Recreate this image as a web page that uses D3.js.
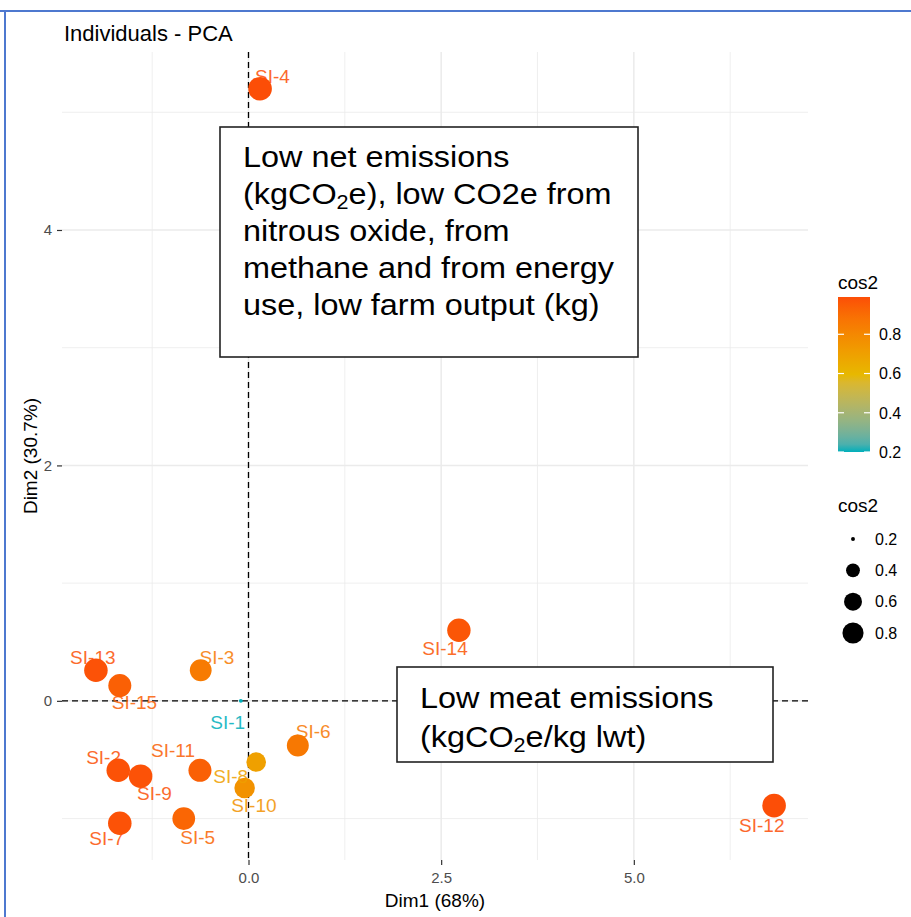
<!DOCTYPE html>
<html>
<head>
<meta charset="utf-8">
<script src="https://cdn.jsdelivr.net/npm/d3@7"></script>
<style>
  html, body { margin: 0; padding: 0; background: #ffffff; }
  svg { display: block; font-family: "Liberation Sans", Arial, Helvetica, sans-serif; }
</style>
</head>
<body>
<svg id="chart" width="911" height="917"></svg>
<script>
// ---------------- DATA ----------------
const individuals = ["SI-1","SI-2","SI-3","SI-4","SI-5","SI-6","SI-7","SI-8","SI-9","SI-10","SI-11","SI-12","SI-13","SI-14","SI-15"];
const dim1 = [-0.10, -1.69, -0.62, 0.15, -0.84, 0.64, -1.67, 0.10, -1.40, -0.05, -0.63, 6.82, -1.98, 2.73, -1.67];
const dim2 = [0.00, -0.59, 0.26, 5.20, -1.00, -0.38, -1.04, -0.52, -0.64, -0.74, -0.59, -0.89, 0.26, 0.60, 0.13];
const cos2 = [0.20, 0.98, 0.85, 0.99, 0.92, 0.86, 0.98, 0.70, 0.98, 0.76, 0.94, 0.99, 0.98, 0.97, 0.94];
// repelled label positions (data units)
const labelDim1 = [-0.27, -1.88, -0.41, 0.31, -0.66, 0.84, -1.84, -0.23, -1.22, 0.07, -0.98, 6.66, -2.02, 2.55, -1.48];
const labelDim2 = [-0.18, -0.48, 0.37, 5.31, -1.16, -0.26, -1.17, -0.64, -0.78, -0.89, -0.42, -1.06, 0.37, 0.45, -0.01];

const xTicks = [0, 2.5, 5];
const yTicks = [0, 2, 4];
const xTickLabels = ["0.0", "2.5", "5.0"];
const yTickLabels = ["0", "2", "4"];
const legendBreaks = [0.2, 0.4, 0.6, 0.8];
const gradientColours = ["#00AFBB", "#E7B800", "#FC4E07"];

const titleText = "Individuals - PCA";
const xTitle = "Dim1 (68%)";
const yTitle = "Dim2 (30.7%)";
const legendTitle = "cos2";

// ---------------- LAYOUT ----------------
const svg = d3.select("#chart");
const panel = { left: 62, right: 808, top: 52, bottom: 860 };

function expand(ext, f) { const r = ext[1] - ext[0]; return [ext[0] - r * f, ext[1] + r * f]; }
const x = d3.scaleLinear().domain(expand(d3.extent(dim1), 0.05)).range([panel.left, panel.right]);
const y = d3.scaleLinear().domain(expand(d3.extent(dim2), 0.05)).range([panel.bottom, panel.top]);

const cExt = d3.extent(cos2);
const colour = d3.scaleLinear()
  .domain([cExt[0], (cExt[0] + cExt[1]) / 2, cExt[1]])
  .range(gradientColours)
  .interpolate(d3.interpolateLab);
// ggplot2 scale_size area palette, range 1..6, scaled to px radius
const sizeUnit = 1.97;
function radius(v) {
  const t = Math.max(0, (v - cExt[0]) / (cExt[1] - cExt[0]));
  return sizeUnit * (1 + 5 * Math.sqrt(t));
}

// frame of the screenshot
svg.append("line").attr("x1", 0).attr("x2", 911).attr("y1", 11).attr("y2", 11)
  .attr("stroke", "#4E78CF").attr("stroke-width", 2);
svg.append("line").attr("x1", 5).attr("x2", 5).attr("y1", 10).attr("y2", 917)
  .attr("stroke", "#4E78CF").attr("stroke-width", 2);

// ---------------- GRID ----------------
const grid = svg.append("g");
const xStep = xTicks[1] - xTicks[0];
const yStep = yTicks[1] - yTicks[0];
const xMinor = d3.range(-10, 10).map(i => xTicks[0] + (i + 0.5) * xStep).filter(v => v > x.domain()[0] && v < x.domain()[1]);
const yMinor = d3.range(-10, 10).map(i => yTicks[0] + (i + 0.5) * yStep).filter(v => v > y.domain()[0] && v < y.domain()[1]);

grid.selectAll(".xminor").data(xMinor).join("line")
  .attr("x1", d => x(d)).attr("x2", d => x(d)).attr("y1", panel.top).attr("y2", panel.bottom)
  .attr("stroke", "#EBEBEB").attr("stroke-width", 0.8);
grid.selectAll(".yminor").data(yMinor).join("line")
  .attr("y1", d => y(d)).attr("y2", d => y(d)).attr("x1", panel.left).attr("x2", panel.right)
  .attr("stroke", "#EBEBEB").attr("stroke-width", 0.8);
grid.selectAll(".xmajor").data(xTicks).join("line")
  .attr("x1", d => x(d)).attr("x2", d => x(d)).attr("y1", panel.top).attr("y2", panel.bottom)
  .attr("stroke", "#EBEBEB").attr("stroke-width", 1.5);
grid.selectAll(".ymajor").data(yTicks).join("line")
  .attr("y1", d => y(d)).attr("y2", d => y(d)).attr("x1", panel.left).attr("x2", panel.right)
  .attr("stroke", "#EBEBEB").attr("stroke-width", 1.5);

// dashed reference lines at 0
svg.append("line").attr("x1", panel.left).attr("x2", panel.right).attr("y1", y(0)).attr("y2", y(0))
  .attr("stroke", "#000").attr("stroke-width", 1.3).attr("stroke-dasharray", "6,4");
svg.append("line").attr("x1", x(0)).attr("x2", x(0)).attr("y1", panel.top).attr("y2", panel.bottom)
  .attr("stroke", "#000").attr("stroke-width", 1.3).attr("stroke-dasharray", "6,4");

// ---------------- AXES ----------------
const xAxis = d3.axisBottom(x).tickValues(xTicks).tickSize(5).tickPadding(7)
  .tickFormat((d, i) => xTickLabels[i]);
const gx = svg.append("g").attr("transform", `translate(0,${panel.bottom})`).call(xAxis);
gx.select(".domain").remove();
gx.selectAll(".tick line").attr("stroke", "#333333").attr("stroke-width", 1.2);
gx.selectAll(".tick text").attr("fill", "#4D4D4D").style("font-size", "15px")
  .style("font-family", "'Liberation Sans', Arial, sans-serif");

const yAxis = d3.axisLeft(y).tickValues(yTicks).tickSize(5).tickPadding(5)
  .tickFormat((d, i) => yTickLabels[i]);
const gy = svg.append("g").attr("transform", `translate(${panel.left},0)`).call(yAxis);
gy.select(".domain").remove();
gy.selectAll(".tick line").attr("stroke", "#333333").attr("stroke-width", 1.2);
gy.selectAll(".tick text").attr("fill", "#4D4D4D").style("font-size", "15px")
  .style("font-family", "'Liberation Sans', Arial, sans-serif");

svg.append("text").attr("x", (panel.left + panel.right) / 2).attr("y", 907)
  .attr("text-anchor", "middle").style("font-size", "19px").attr("fill", "#000").text(xTitle);
svg.append("text").attr("transform", `translate(37,${(panel.top + panel.bottom) / 2}) rotate(-90)`)
  .attr("text-anchor", "middle").style("font-size", "19px").attr("fill", "#000").text(yTitle);
svg.append("text").attr("x", 64).attr("y", 41).style("font-size", "22px").attr("fill", "#000").text(titleText);

// ---------------- POINTS & LABELS ----------------
const rows = individuals.map((name, i) => ({
  name, d1: dim1[i], d2: dim2[i], c: cos2[i], l1: labelDim1[i], l2: labelDim2[i]
}));

svg.append("g").selectAll("circle").data(rows).join("circle")
  .attr("cx", d => x(d.d1)).attr("cy", d => y(d.d2)).attr("r", d => radius(d.c))
  .attr("fill", d => colour(d.c));

svg.append("g").selectAll("text").data(rows).join("text")
  .attr("x", d => x(d.l1)).attr("y", d => y(d.l2)).attr("dy", "0.36em")
  .attr("text-anchor", "middle").style("font-size", "19px")
  .attr("fill", d => colour(d.c)).attr("opacity", 0.85).text(d => d.name);

// ---------------- ANNOTATION BOXES ----------------
function annotationBox(rx, ry, rw, rh, tx, firstBase, lineGap, lines) {
  const g = svg.append("g");
  g.append("rect").attr("x", rx).attr("y", ry).attr("width", rw).attr("height", rh)
    .attr("fill", "#fff").attr("stroke", "#222").attr("stroke-width", 1.6);
  const tg = g.append("g").attr("transform", `translate(${tx},0) scale(1.08,1)`);
  lines.forEach((parts, i) => {
    const t = tg.append("text").attr("x", 0).attr("y", firstBase + i * lineGap)
      .style("font-size", "30px").attr("fill", "#000");
    parts.forEach(p => {
      if (p.sub) {
        t.append("tspan").text(p.t).style("font-size", "20px").attr("dy", 5);
      } else {
        const s = t.append("tspan").text(p.t);
        if (p.after) s.attr("dy", -5);
      }
    });
  });
}
annotationBox(220, 127, 418, 230, 243, 167, 37, [
  [{ t: "Low net emissions" }],
  [{ t: "(kgCO" }, { t: "2", sub: true }, { t: "e), low CO2e from", after: true }],
  [{ t: "nitrous oxide, from" }],
  [{ t: "methane and from energy" }],
  [{ t: "use, low farm output (kg)" }]
]);
annotationBox(397, 667, 376, 95, 420, 708, 39, [
  [{ t: "Low meat emissions" }],
  [{ t: "(kgCO" }, { t: "2", sub: true }, { t: "e/kg lwt)", after: true }]
]);

// ---------------- LEGENDS ----------------
// colour bar
const bar = { x: 838, y0: 297, y1: 452, w: 32 };
const barScale = d3.scaleLinear().domain(cExt).range([bar.y1, bar.y0]);
const defs = svg.append("defs");
const lg = defs.append("linearGradient").attr("id", "cbar").attr("x1", 0).attr("x2", 0).attr("y1", 1).attr("y2", 0);
d3.range(0, 1.0001, 0.05).forEach(t => {
  lg.append("stop").attr("offset", t).attr("stop-color", colour(cExt[0] + t * (cExt[1] - cExt[0])));
});
svg.append("text").attr("x", bar.x).attr("y", 289).style("font-size", "19px").attr("fill", "#000").text(legendTitle);
svg.append("rect").attr("x", bar.x).attr("y", bar.y0).attr("width", bar.w).attr("height", bar.y1 - bar.y0)
  .attr("fill", "url(#cbar)");
const cb = svg.append("g");
cb.selectAll(".tl").data(legendBreaks).join("line")
  .attr("x1", bar.x).attr("x2", bar.x + 6).attr("y1", d => barScale(d)).attr("y2", d => barScale(d))
  .attr("stroke", "#fff").attr("stroke-width", 1.2);
cb.selectAll(".tr").data(legendBreaks).join("line")
  .attr("x1", bar.x + bar.w - 6).attr("x2", bar.x + bar.w).attr("y1", d => barScale(d)).attr("y2", d => barScale(d))
  .attr("stroke", "#fff").attr("stroke-width", 1.2);
cb.selectAll("text").data(legendBreaks).join("text")
  .attr("x", 879).attr("y", d => barScale(d)).attr("dy", "0.36em")
  .style("font-size", "16px").attr("fill", "#000").text(d => d.toFixed(1));

// size legend
svg.append("text").attr("x", 838).attr("y", 512).style("font-size", "19px").attr("fill", "#000").text(legendTitle);
const keyY = d3.scalePoint().domain(legendBreaks).range([539, 633]);
const sl = svg.append("g");
sl.selectAll("circle").data(legendBreaks).join("circle")
  .attr("cx", 853).attr("cy", d => keyY(d)).attr("r", d => radius(d)).attr("fill", "#000");
sl.selectAll("text").data(legendBreaks).join("text")
  .attr("x", 875).attr("y", d => keyY(d)).attr("dy", "0.36em")
  .style("font-size", "16px").attr("fill", "#000").text(d => d.toFixed(1));
</script>
</body>
</html>
